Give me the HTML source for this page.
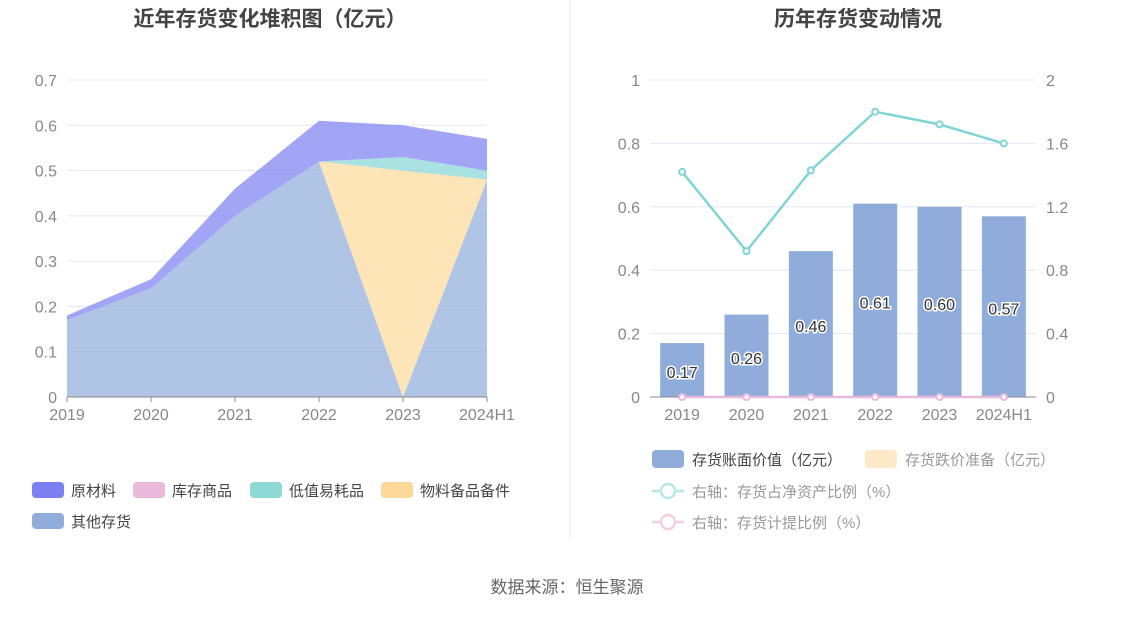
<!DOCTYPE html>
<html><head><meta charset="utf-8"><style>
body{margin:0;width:1134px;height:612px;background:#fff;overflow:hidden;font-family:"Liberation Sans","Noto Sans CJK SC",sans-serif}
svg text{font-family:"Liberation Sans","Noto Sans CJK SC",sans-serif}
</style></head><body>
<svg width="1134" height="612" id="svg">
<text x="270" y="26" text-anchor="middle" font-size="21" font-weight="bold" fill="#444">近年存货变化堆积图（亿元）</text>
<text x="858" y="26" text-anchor="middle" font-size="21" font-weight="bold" fill="#444">历年存货变动情况</text>
<line x1="570" y1="0" x2="570" y2="540" stroke="#eee"/>
<g id="left"></g><g id="right"></g>
<text x="567" y="593" text-anchor="middle" font-size="17" fill="#666">数据来源：恒生聚源</text>
</svg>
<script>
const cats=['2019','2020','2021','2022','2023','2024H1'];
const other=[0.17,0.24,0.40,0.52,0,0.48];
const goods=[0,0,0,0,0,0];
const spare=[0,0,0,0,0.50,0];
const lowval=[0,0,0,0,0.03,0.02];
const raw=[0.01,0.02,0.06,0.09,0.07,0.07];
const leftTicks=[0,0.1,0.2,0.3,0.4,0.5,0.6,0.7];
const bookVal=[0.17,0.26,0.46,0.61,0.60,0.57];
const ratioNet=[1.42,0.92,1.43,1.80,1.72,1.60];
const ratioProv=[0,0,0,0,0,0];
const rightTicksL=[0,0.2,0.4,0.6,0.8,1];
const rightTicksR=[0,0.4,0.8,1.2,1.6,2];
const NS='http://www.w3.org/2000/svg';
function mk(p,t,a,txt){const e=document.createElementNS(NS,t);for(const k in a)e.setAttribute(k,a[k]);if(txt!==undefined)e.textContent=txt;p.appendChild(e);return e;}
// left
const L=document.getElementById('left');
const lx=i=>67+i*(420/5), ly=v=>397-v*(317/0.7);
leftTicks.forEach(t=>{const g=mk(L,'line',{x1:67,x2:487,y1:ly(t),y2:ly(t),stroke:'#e3e7f3'});


const tx=mk(L,'text',{x:57,y:ly(t)+6,'text-anchor':'end','font-size':16,fill:'#888'},String(t));

});
const series=[[other,'#8facda',0.7,'area-other'],[goods,'#e8b9da',0.85,'area-goods'],[spare,'#fde2b0',0.9,'area-spare'],[lowval,'#8ed8d8',0.75,'area-lowval'],[raw,'#7b7ff2',0.7,'area-raw']];
let base=cats.map(()=>0);
series.forEach(([arr,col,op,nm])=>{const top=base.map((b,i)=>b+arr[i]);
let d='M'+top.map((v,i)=>lx(i)+','+ly(v)).join('L');
for(let i=cats.length-1;i>=0;i--)d+='L'+lx(i)+','+ly(base[i]);
const p=mk(L,'path',{d:d+'Z',fill:col,'fill-opacity':op});


base=top;});
mk(L,'line',{x1:67,x2:487,y1:397,y2:397,stroke:'#888'});
cats.forEach((c,i)=>{mk(L,'line',{x1:lx(i),x2:lx(i),y1:397,y2:402,stroke:'#888'});
const t=mk(L,'text',{x:lx(i),y:420,'text-anchor':'middle','font-size':16,fill:'#888'},c);

});
const leg=[['原材料','#7b7ff2',32,490],['库存商品','#e8b9da',133,490],['低值易耗品','#8ed8d8',250,490],['物料备品备件','#fdd898',381,490],['其他存货','#8facda',32,521]];
leg.forEach(([n,c,x,y])=>{const g=mk(L,'g',{});


mk(g,'rect',{x:x,y:y-8,width:32,height:16,rx:4,fill:c});
mk(g,'text',{x:x+39,y:y+6,'font-size':15,fill:'#444'},n);});
// right
const R=document.getElementById('right');
const cw=386/6, rx=i=>650+cw*(i+0.5), ry=v=>397-v*317, ry2=v=>397-v*317/2;
rightTicksL.forEach((t,k)=>{const g=mk(R,'line',{x1:650,x2:1036,y1:ry(t),y2:ry(t),stroke:'#e3e7f3'});


const a=mk(R,'text',{x:640,y:ry(t)+6,'text-anchor':'end','font-size':16,fill:'#888'},String(t));


const tr=rightTicksR[k];
const b=mk(R,'text',{x:1046,y:ry2(tr)+6,'font-size':16,fill:'#888'},String(tr));

});
bookVal.forEach((v,i)=>{const r=mk(R,'rect',{x:rx(i)-22,y:ry(v),width:44,height:ry(0)-ry(v),fill:'#8facda'});


const t=mk(R,'text',{x:rx(i),y:(ry(v)+397)/2+8,'text-anchor':'middle','font-size':16,fill:'#333',stroke:'#fff','stroke-width':3,'paint-order':'stroke'},v.toFixed(2));

});
mk(R,'line',{x1:650,x2:1036,y1:397,y2:397,stroke:'#888'});
cats.forEach((c,i)=>{const t=mk(R,'text',{x:rx(i),y:420,'text-anchor':'middle','font-size':16,fill:'#888'},c);

});
[[ratioNet,'#80d4d6','line-net-asset-ratio'],[ratioProv,'#e8b9da','line-provision-ratio']].forEach(([arr,col,nm])=>{
const p=mk(R,'polyline',{points:arr.map((v,i)=>rx(i)+','+ry2(v)).join(' '),fill:'none',stroke:col,'stroke-width':2.5});


arr.forEach((v,i)=>{const c=mk(R,'circle',{cx:rx(i),cy:ry2(v),r:3,fill:'#fff',stroke:col,'stroke-width':2});

});});
const rl=[['存货账面价值（亿元）','rect','#8facda',652,459,'#444'],['存货跌价准备（亿元）','rect','#fde9c8',865,459,'#999'],['右轴：存货占净资产比例（%）','line','#b6e8e8',652,491,'#999'],['右轴：存货计提比例（%）','line','#f2cfe4',652,522,'#999']];
rl.forEach(([n,k,c,x,y,tc])=>{const g=mk(R,'g',{});


if(k==='rect')mk(g,'rect',{x:x,y:y-9,width:32,height:18,rx:4,fill:c});
else{mk(g,'line',{x1:x,x2:x+32,y1:y,y2:y,stroke:c,'stroke-width':2.5});mk(g,'circle',{cx:x+16,cy:y,r:7,fill:'#fff',stroke:c,'stroke-width':2.5});}
mk(g,'text',{x:x+40,y:y+6,'font-size':15,fill:tc},n);});
</script>
</body></html>
